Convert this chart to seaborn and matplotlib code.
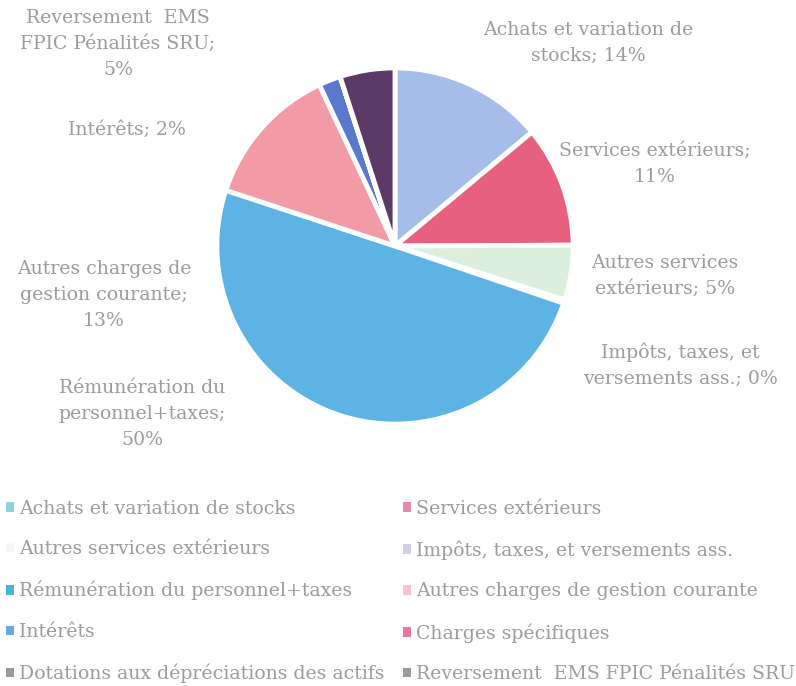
import matplotlib
matplotlib.use("Agg")
import matplotlib.pyplot as plt
from matplotlib.patches import Patch
import seaborn as sns

categories = [
    "Achats et variation de stocks",
    "Services extérieurs",
    "Autres services extérieurs",
    "Impôts, taxes, et versements ass.",
    "Rémunération du personnel+taxes",
    "Autres charges de gestion courante",
    "Intérêts",
    "Charges spécifiques",
    "Dotations aux dépréciations des actifs",
    "Reversement  EMS FPIC Pénalités SRU",
]
values = [14, 11, 5, 0.3, 50, 13, 2, 0, 0, 5]
pie_labels = [
    "Achats et variation de\nstocks; {p}",
    "Services extérieurs;\n{p}",
    "Autres services\nextérieurs; {p}",
    "Impôts, taxes, et\nversements ass.; {p}",
    "Rémunération du\npersonnel+taxes;\n{p}",
    "Autres charges de\ngestion courante;\n{p}",
    "Intérêts; {p}",
    None,
    None,
    "Reversement  EMS\nFPIC Pénalités SRU;\n{p}",
]
pie_colors = ["#a6bde9", "#e8607f", "#dcefdc", "#e8a0b0", "#5cb3e4",
              "#f29aa6", "#5b78cf", "#e06080", "#888888", "#5b3a68"]
legend_colors = ["#8fd3df", "#ea8aa6", "#f6f6f6", "#d0d0e2", "#3fb6d6",
                 "#f7c3cf", "#6aaae3", "#e8789a", "#9a9a9a", "#9a9a9a"]
# label centres in pixels (x, y from top)
label_pos = [(588, 43), (655, 164), (665, 276), (680, 365), (142, 414),
             (104, 295), (127, 130), None, None, (118, 44)]

sns.set_theme(style="white")
plt.rcParams["font.family"] = ["DejaVu Serif"]
TXT = "#9c9c9c"
FS = 13.6

W, H = 796, 686
fig = plt.figure(figsize=(W / 100, H / 100), dpi=100)
cx, cy, r = 395, 246, 179
ax = fig.add_axes([(cx - r) / W, (H - cy - r) / H, 2 * r / W, 2 * r / H])
wedges, _ = ax.pie(values, colors=pie_colors, startangle=90, counterclock=False,
                   radius=1, wedgeprops=dict(edgecolor="white", linewidth=3.5))
ax.set_xlim(-1.005, 1.005)
ax.set_ylim(-1.005, 1.005)
ax.set_aspect("equal")
ax.axis("off")

for v, lab, pos in zip(values, pie_labels, label_pos):
    if lab is None:
        continue
    fig.text(pos[0] / W, 1 - pos[1] / H, lab.format(p=f"{round(v)}%"),
             ha="center", va="center", fontsize=FS, color=TXT,
             linespacing=1.56)

order = [0, 2, 4, 6, 8, 1, 3, 5, 7, 9]
handles = [Patch(facecolor=legend_colors[i], edgecolor="none") for i in order]
labels = [categories[i] for i in order]
leg = fig.legend(handles, labels, ncol=2, loc="upper left",
                 bbox_to_anchor=(0.0, 1 - 494 / H), frameon=False,
                 fontsize=FS, labelcolor=TXT, handlelength=0.42,
                 handleheight=0.42, handletextpad=0.3, labelspacing=1.2,
                 columnspacing=0.95, borderaxespad=0.0, borderpad=0.3)

fig.savefig("out.png", dpi=100, facecolor="white")
